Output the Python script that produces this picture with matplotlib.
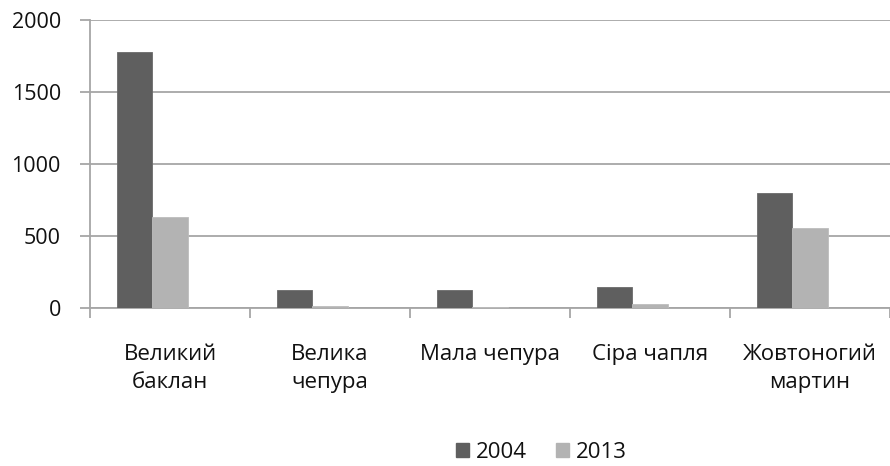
import numpy as np
import matplotlib
matplotlib.use("Agg")
import matplotlib.pyplot as plt
from matplotlib.patches import Patch

# data
categories = ["Великий\nбаклан", "Велика\nчепура", "Мала чепура", "Сіра чапля", "Жовтоногий\nмартин"]
years = ["2004", "2013"]
values_2004 = [1780, 128, 127, 146, 796]
values_2013 = [632, 11, 9, 30, 554]

plt.rcParams['font.family'] = ['Open Sans', 'DejaVu Sans']

W, H = 890, 466
fig = plt.figure(figsize=(W / 100, H / 100), dpi=100)
ax = fig.add_axes([90 / W, (H - 308) / H, (W - 90) / W, 288 / H])

x = np.arange(len(categories))
bw = 36 / 162
ax.bar(x - bw, values_2004, width=bw, align='center', color='#5f5f5f',
       edgecolor='#6a6a6a', linewidth=0.6, zorder=3)
ax.bar(x, values_2013, width=bw, align='center', color='#b3b3b3',
       edgecolor='#bdbdbd', linewidth=0.6, zorder=3)

ax.set_ylim(0, 2000)
ax.set_xlim(-0.5, 4.5 - 9 / 162)
ax.set_yticks([0, 500, 1000, 1500, 2000])
ax.yaxis.grid(True, color='#a6a6a6', linewidth=1.3, zorder=0)

for s in ['top', 'right']:
    ax.spines[s].set_visible(False)
for s in ['left', 'bottom']:
    ax.spines[s].set_color('#a6a6a6')
    ax.spines[s].set_linewidth(1.3)

ax.set_xticks(x)
ax.set_xticklabels(categories, linespacing=1.4, color='#111111')
ax.set_xticks(np.arange(-0.5, 4.6, 1), minor=True)
ax.tick_params(axis='x', which='major', length=0, pad=26, labelsize=16)
ax.tick_params(axis='x', which='minor', length=7, width=1.3, color='#a6a6a6')
ax.tick_params(axis='y', length=7, width=1.3, color='#a6a6a6', pad=14,
               labelsize=15.5, labelcolor='#111111')

handles = [Patch(facecolor='#5f5f5f', edgecolor='#5f5f5f'),
           Patch(facecolor='#b3b3b3', edgecolor='#b3b3b3')]
fig.legend(handles, years, loc='center', bbox_to_anchor=(541 / W, (H - 452) / H),
           ncol=2, frameon=False, fontsize=16, handlelength=0.6, handleheight=0.6,
           handletextpad=0.3, columnspacing=1.3, labelcolor='#111111')

fig.savefig("out.png", dpi=100)
